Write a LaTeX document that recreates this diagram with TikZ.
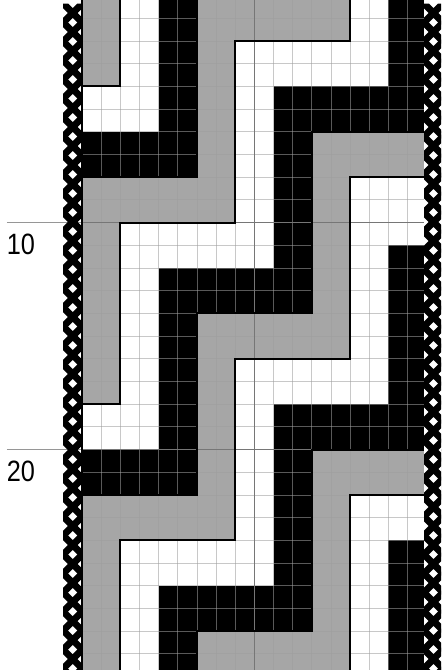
\documentclass[tikz,border=0pt]{standalone}
\usepackage{fontspec}
\setmainfont{Liberation Sans}
\usepackage{graphicx}
\definecolor{pattgrey}{RGB}{166,166,166}
\definecolor{gridgrey}{RGB}{158,158,158}
\definecolor{markgrey}{RGB}{150,150,150}
\begin{document}
\begin{tikzpicture}[x=0.5pt,y=-0.5pt,
  cellgrid/.style={draw=gridgrey,draw opacity=0.57,line width=0.5pt},
  tenline/.style={draw=gridgrey!75!black,line width=0.6pt},
  greyband/.style={draw=black,line width=1pt,line join=miter},
  edgecord/.style={draw=black,line width=3.4pt},
  rowmark/.style={draw=markgrey,line width=0.8pt},
  rowlabel/.style={anchor=base west,inner sep=0pt,font=\fontsize{14.7}{16}\selectfont}
]
\useasboundingbox (0,0) rectangle (441,670);
\clip (0,0) rectangle (441,670);
% staircase bands, one unit = one cell
\begin{scope}[shift={(82.2,-4.4)},x=9.57pt,y=-11.35pt]
  \def\greyregions{(0,-1) rectangle (2,4)
    (0,8) -- (6,8) -- (6,-1) -- (14,-1) -- (14,2) -- (8,2) -- (8,10) -- (2,10) -- (2,18) -- (0,18) -- cycle
    (0,22) -- (6,22) -- (6,14) -- (12,14) -- (12,6) -- (19,6) -- (19,8) -- (14,8) -- (14,16) -- (8,16) -- (8,24) -- (2,24) -- (2,31) -- (0,31) -- cycle
    (6,28) -- (12,28) -- (12,20) -- (19,20) -- (19,22) -- (14,22) -- (14,31) -- (6,31) -- cycle}
  \fill[pattgrey] \greyregions;
  % black runs: column pair / first row / last row
  \foreach \p/\a/\b in {0/6/7,0/20/21,1/6/7,1/20/21,2/-1/7,2/12/21,2/26/30,
      3/12/13,3/26/27,4/12/13,4/26/27,5/4/13,5/18/27,6/4/5,6/18/19,
      7/4/5,7/18/19,8/-1/5,8/11/19,8/24/30}
    \fill (2*\p,\a) rectangle (2*\p+2,\b+1);
  \foreach \c in {1,...,17}
    \draw[cellgrid] (\c,-1) -- (\c,31);
  \foreach \r in {0,...,30}
    \draw[cellgrid] (0,\r) -- (18,\r);
  \draw[tenline] (9,-1) -- (9,31) (0,10) -- (18,10) (0,20) -- (18,20);
  \draw[greyband] \greyregions;
  \draw[rowmark] (-3.93,10) -- (0,10) (-3.93,20) -- (0,20);
  \draw[line width=0.8pt] (0,-1) -- (0,31);
\end{scope}
% edge cords
\fill[white] (424,0) rectangle (443,670);
\begin{scope}
  \clip (63.2,3.5) rectangle (82.2,670) (424,3.5) rectangle (443,670);
  \foreach \k in {0,...,35} {
    \draw[edgecord] (63.2,3.5+19*\k) -- (82.2,22.5+19*\k)
      (82.2,3.5+19*\k) -- (63.2,22.5+19*\k);
    \draw[edgecord] (424,3.5+19*\k) -- (443,22.5+19*\k)
      (443,3.5+19*\k) -- (424,22.5+19*\k);
  }
\end{scope}
\node[rowlabel] (lab10) at (6.5,254) {\scalebox{0.86}[1]{10}};
\node[rowlabel] (lab20) at (6.5,481.5) {\scalebox{0.86}[1]{20}};
\end{tikzpicture}
\end{document}
